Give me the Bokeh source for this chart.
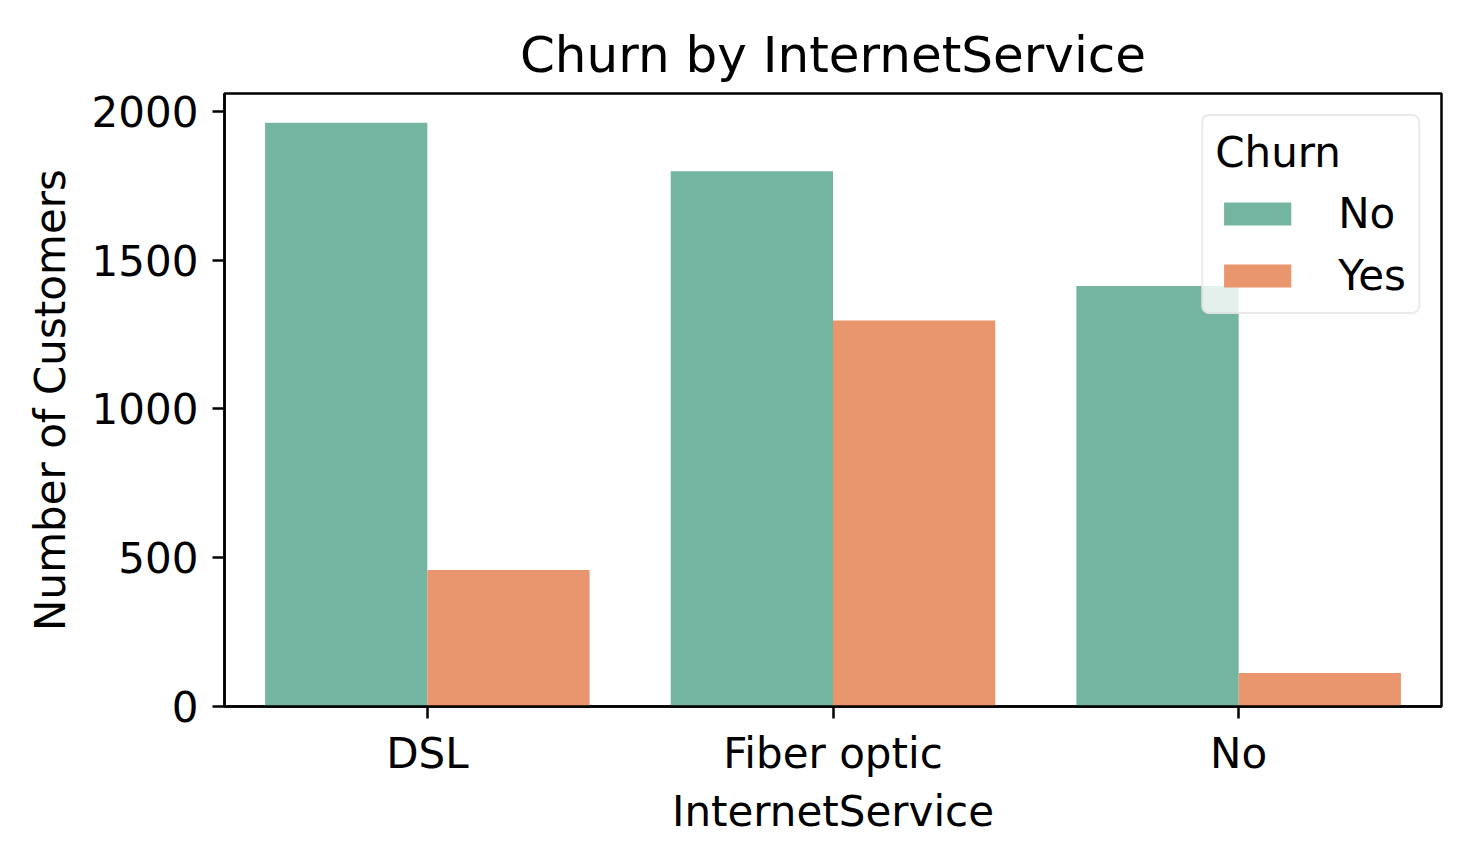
from bokeh.plotting import figure
from bokeh.models import ColumnDataSource, FactorRange, Range1d, FixedTicker, Legend, LegendItem
from bokeh.transform import dodge
from bokeh.embed import file_html
from bokeh.resources import INLINE

categories = ["DSL", "Fiber optic", "No"]
churn_no = [1962, 1799, 1413]
churn_yes = [459, 1297, 113]
hue_labels = ["No", "Yes"]
colors = ["#74b5a1", "#e9966f"]
y_ticks = [0, 500, 1000, 1500, 2000]

src = ColumnDataSource(dict(cat=categories, no=churn_no, yes=churn_yes))

FONT = "DejaVu Sans"
p = figure(width=1470, height=866, x_range=FactorRange(factors=categories, range_padding=0),
           y_range=Range1d(0, max(churn_no) * 1.05), output_backend="svg", toolbar_location=None,
           min_border_left=224, min_border_right=29, min_border_top=93, min_border_bottom=160,
           title="Churn by InternetService")

r_no = p.vbar(x=dodge("cat", -0.2, range=p.x_range), top="no", width=0.4, source=src,
              fill_color=colors[0], line_color=None)
r_yes = p.vbar(x=dodge("cat", 0.2, range=p.x_range), top="yes", width=0.4, source=src,
               fill_color=colors[1], line_color=None)

p.title.text_font = FONT
p.title.text_font_size = "50px"
p.title.text_font_style = "normal"
p.title.align = "center"
p.title.text_color = "black"
p.title.standoff = 19

p.grid.visible = False
p.outline_line_color = "black"
p.outline_line_width = 2.5
p.outline_line_alpha = 1

for ax in (p.xaxis[0], p.yaxis[0]):
    ax.axis_line_color = "black"
    ax.axis_line_width = 2.5
    ax.major_tick_line_color = "black"
    ax.major_tick_line_width = 2.5
    ax.major_tick_in = 0
    ax.major_tick_out = 12
    ax.minor_tick_line_color = None
    ax.major_label_text_font = FONT
    ax.major_label_text_font_size = "42px"
    ax.major_label_text_color = "black"
    ax.axis_label_text_font = FONT
    ax.axis_label_text_font_size = "42px"
    ax.axis_label_text_font_style = "normal"
    ax.axis_label_text_color = "black"

p.yaxis.ticker = FixedTicker(ticks=y_ticks)
p.yaxis.axis_label = "Number of Customers"
p.yaxis.major_label_standoff = 14
p.yaxis.axis_label_standoff = 14
p.xaxis.axis_label = "InternetService"
p.xaxis.major_label_standoff = 10
p.xaxis.axis_label_standoff = 6

legend = Legend(items=[LegendItem(label=hue_labels[0], renderers=[r_no]),
                       LegendItem(label=hue_labels[1], renderers=[r_yes])],
                location="top_right", title="Churn")
legend.title_text_font = FONT
legend.title_text_font_size = "42px"
legend.title_text_font_style = "normal"
legend.title_text_color = "black"
legend.title_standoff = 12
legend.label_text_font = FONT
legend.label_text_font_size = "42px"
legend.label_text_color = "black"
legend.glyph_width = 84
legend.glyph_height = 29
legend.label_height = 42
legend.label_standoff = 39
legend.spacing = 13
legend.padding = 12
legend.margin = 21
legend.border_line_color = "#d6d6d6"
legend.border_line_width = 2.5
legend.background_fill_alpha = 0.8
if "border_radius" in Legend.properties():
    legend.border_radius = 8
p.add_layout(legend)

open("out.html", "w").write(file_html(p, INLINE))
